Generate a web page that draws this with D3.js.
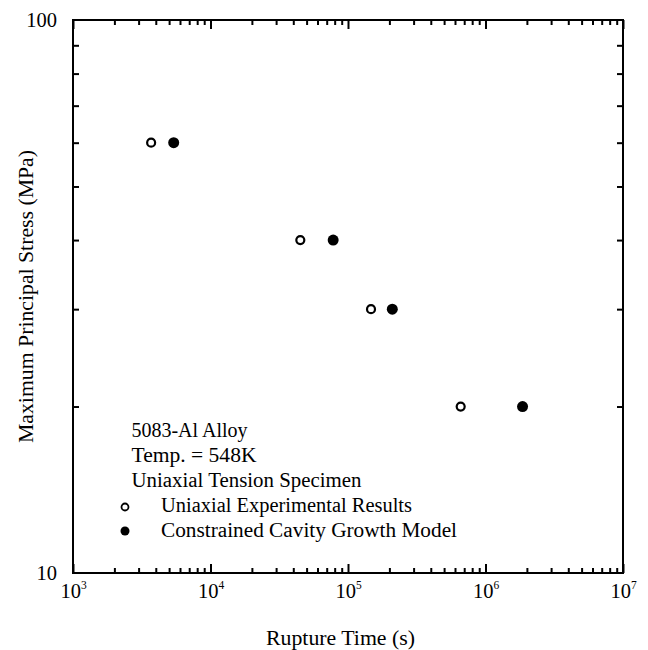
<!DOCTYPE html>
<html>
<head>
<meta charset="utf-8">
<script src="https://cdn.jsdelivr.net/npm/d3@7"></script>
<style>
  html, body { margin: 0; padding: 0; background: #fff; }
  svg text { font-family: "Liberation Serif", "Times New Roman", serif; fill: #000; }
</style>
</head>
<body>
<svg id="chart" width="648" height="650"></svg>
<script>
// Creep rupture of 5083-Al at 548 K: stress vs. rupture time
const stressMPa = [60, 40, 30, 20];
const experimentalTime = [3.7e3, 4.5e4, 1.47e5, 6.6e5];
const modelTime = [5.4e3, 7.8e4, 2.1e5, 1.86e6];

const xMajorTicks = [1e3, 1e4, 1e5, 1e6, 1e7];
const xTickExponents = ["3", "4", "5", "6", "7"];
const yMajorTicks = [10, 100];
const yTickLabels = ["10", "100"];

const noteLines = ["5083-Al Alloy", "Temp. = 548K", "Uniaxial Tension Specimen"];
const seriesNames = ["Uniaxial Experimental Results", "Constrained Cavity Growth Model"];

const svg = d3.select("#chart");
const plotLeft = 73, plotRight = 623, plotTop = 20, plotBottom = 573;

const x = d3.scaleLog().domain([1e3, 1e7]).range([plotLeft, plotRight]);
const y = d3.scaleLog().domain([10, 100]).range([plotBottom, plotTop]);

// minor ticks: 2..9 within each decade
const xMinor = [];
for (let d = 3; d < 7; d++) for (let k = 2; k <= 9; k++) xMinor.push(k * Math.pow(10, d));
const yMinor = d3.range(20, 100, 10);

function clean(g) {
  g.select(".domain").remove();
  g.selectAll(".tick line").attr("stroke", "#000").attr("stroke-width", 2);
}

// bottom axis with labels
const gx = svg.append("g").attr("transform", `translate(0,${plotBottom})`)
  .call(d3.axisBottom(x).tickValues(xMajorTicks).tickSizeInner(-9).tickSizeOuter(0).tickPadding(10.5).tickFormat(() => ""));
clean(gx);
gx.selectAll(".tick text").each(function(d, i) {
  const t = d3.select(this).attr("font-size", 20.5).attr("text-anchor", "middle");
  t.text(null);
  t.append("tspan").text("10");
  t.append("tspan").attr("font-size", 11.5).attr("dy", -9).text(xTickExponents[i]);
});
svg.append("g").attr("transform", `translate(0,${plotBottom})`)
  .call(d3.axisBottom(x).tickValues(xMinor).tickSizeInner(-5).tickSizeOuter(0).tickFormat(() => ""))
  .call(clean);

// top axis (ticks only)
svg.append("g").attr("transform", `translate(0,${plotTop})`)
  .call(d3.axisTop(x).tickValues(xMajorTicks).tickSizeInner(-9).tickSizeOuter(0).tickFormat(() => ""))
  .call(clean);
svg.append("g").attr("transform", `translate(0,${plotTop})`)
  .call(d3.axisTop(x).tickValues(xMinor).tickSizeInner(-5).tickSizeOuter(0).tickFormat(() => ""))
  .call(clean);

// left axis with labels
const gy = svg.append("g").attr("transform", `translate(${plotLeft},0)`)
  .call(d3.axisLeft(y).tickValues(yMajorTicks).tickSizeInner(0).tickSizeOuter(0).tickPadding(16)
    .tickFormat((d, i) => yTickLabels[i]));
clean(gy);
gy.selectAll(".tick text").attr("font-size", 20.5).attr("dy", "0.34em");
svg.append("g").attr("transform", `translate(${plotLeft},0)`)
  .call(d3.axisLeft(y).tickValues(yMinor).tickSizeInner(-6).tickSizeOuter(0).tickFormat(() => ""))
  .call(clean);

// right axis (ticks only)
svg.append("g").attr("transform", `translate(${plotRight},0)`)
  .call(d3.axisRight(y).tickValues(yMinor).tickSizeInner(-6).tickSizeOuter(0).tickFormat(() => ""))
  .call(clean);

// frame
svg.append("rect")
  .attr("x", plotLeft).attr("y", plotTop)
  .attr("width", plotRight - plotLeft).attr("height", plotBottom - plotTop)
  .attr("fill", "none").attr("stroke", "#000").attr("stroke-width", 2);

// axis titles
svg.append("text")
  .attr("x", 340.5).attr("y", 645)
  .attr("text-anchor", "middle").attr("font-size", 21)
  .attr("textLength", 149).attr("lengthAdjust", "spacingAndGlyphs")
  .text("Rupture Time (s)");
svg.append("text")
  .attr("transform", `translate(33,${(plotTop + plotBottom) / 2}) rotate(-90)`)
  .attr("text-anchor", "middle").attr("font-size", 21)
  .attr("textLength", 293).attr("lengthAdjust", "spacingAndGlyphs")
  .text("Maximum Principal Stress (MPa)");

// data points
svg.append("g").selectAll("circle")
  .data(stressMPa)
  .join("circle")
  .attr("cx", (d, i) => x(experimentalTime[i]))
  .attr("cy", d => y(d))
  .attr("r", 4)
  .attr("fill", "#fff").attr("stroke", "#000").attr("stroke-width", 2.2);

svg.append("g").selectAll("circle")
  .data(stressMPa)
  .join("circle")
  .attr("cx", (d, i) => x(modelTime[i]))
  .attr("cy", d => y(d))
  .attr("r", 5.5)
  .attr("fill", "#000");

// annotation and legend
const noteWidths = [116, 125, 230];
const seriesWidths = [251, 296];
const note = svg.append("g").attr("font-size", 20.5);
noteLines.forEach((s, i) => {
  note.append("text").attr("x", 131.5).attr("y", 437 + i * 25)
    .attr("textLength", noteWidths[i]).attr("lengthAdjust", "spacingAndGlyphs").text(s);
});
const legendY = [512, 537];
seriesNames.forEach((s, i) => {
  note.append("text").attr("x", 161).attr("y", legendY[i])
    .attr("textLength", seriesWidths[i]).attr("lengthAdjust", "spacingAndGlyphs").text(s);
});
note.append("circle").attr("cx", 125).attr("cy", 507).attr("r", 3.5)
  .attr("fill", "#fff").attr("stroke", "#000").attr("stroke-width", 1.8);
note.append("circle").attr("cx", 125).attr("cy", 531).attr("r", 4.5).attr("fill", "#000");
</script>
</body>
</html>
